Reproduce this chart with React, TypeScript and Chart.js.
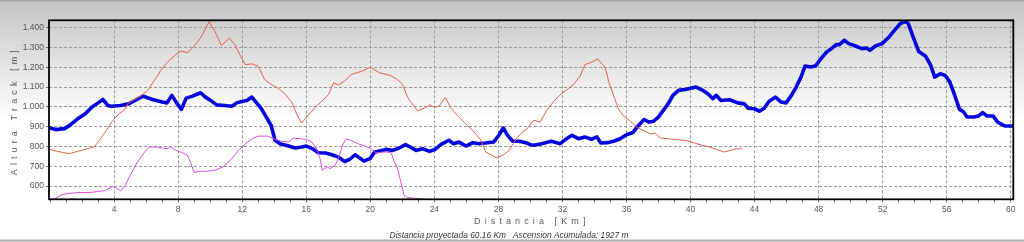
import React, { useEffect, useRef } from 'react';
import { Chart, registerables } from 'chart.js';

Chart.register(...registerables);

// Main track (blue)
const trackKm = [
  0, 0.35, 0.9, 1.2, 1.7, 2.2, 2.6, 3.0, 3.3, 3.6, 3.8, 4.4, 4.9, 5.3, 5.8, 6.4, 7.0, 7.3, 7.6, 7.9,
  8.2, 8.5, 8.9, 9.4, 9.7, 10.0, 10.4, 10.9, 11.35, 11.66, 11.97, 12.28, 12.6, 12.9, 13.2, 13.5, 13.8,
  14.05, 14.36, 14.9, 15.3, 15.7, 16.0, 16.4, 16.75, 17.2, 17.6, 18.0, 18.4, 18.7, 19.05, 19.35, 19.6,
  20.0, 20.25, 20.7, 20.98, 21.4, 21.8, 22.2, 22.5, 22.85, 23.27, 23.7, 24.0, 24.4, 24.9, 25.2, 25.55,
  25.97, 26.4, 26.8, 27.2, 27.7, 28.05, 28.3, 28.57, 28.9, 29.3, 29.7, 30.0, 30.2, 30.7, 31.3, 31.86,
  32.2, 32.6, 33.0, 33.4, 33.8, 34.15, 34.4, 34.8, 35.2, 35.6, 36.0, 36.4, 36.75, 37.1, 37.4, 37.7,
  38.0, 38.3, 38.6, 38.9, 39.25, 39.66, 40.08, 40.35, 40.77, 41.08, 41.4, 41.6, 41.9, 42.43, 42.95,
  43.37, 43.6, 44.0, 44.3, 44.6, 44.9, 45.3, 45.66, 45.97, 46.3, 46.6, 46.9, 47.15, 47.5, 47.8, 48.15,
  48.5, 48.8, 49.1, 49.3, 49.6, 49.88, 50.3, 50.7, 51.0, 51.2, 51.55, 51.96, 52.4, 52.8, 53.1, 53.4,
  53.6, 53.9, 54.25, 54.67, 55.0, 55.25, 55.6, 55.9, 56.2, 56.5, 56.8, 57.06, 57.27, 57.7, 58.0, 58.25,
  58.5, 58.9, 59.2, 59.66, 60.16,
];
const trackAlt = [
  893, 885, 890, 905, 938, 965, 998, 1020, 1037, 1007, 1003, 1007, 1015, 1032, 1054, 1037, 1024, 1020, 1058, 1020,
  987, 1044, 1054, 1071, 1049, 1034, 1010, 1007, 1003, 1020, 1027, 1032, 1049, 1020, 990, 948, 907,
  831, 814, 802, 792, 797, 802, 788, 768, 767, 758, 746, 724, 734, 758, 741, 726,
  740, 771, 780, 785, 780, 792, 809, 797, 780, 788, 775, 783, 809, 831, 814, 822,
  802, 819, 814, 817, 822, 859, 893, 856, 826, 826, 819, 809, 806, 814, 826, 814,
  836, 856, 839, 848, 836, 848, 817, 819, 826, 839, 859, 870, 906, 936, 923, 927,
  949, 982, 1015, 1058, 1083, 1088, 1095, 1100, 1083, 1066, 1041, 1058, 1032, 1036, 1020,
  1015, 993, 990, 978, 993, 1027, 1049, 1024, 1020, 1058, 1100, 1150, 1206, 1201, 1206, 1243,
  1277, 1294, 1314, 1314, 1336, 1319, 1307, 1294, 1297, 1285, 1307, 1319, 1353, 1392, 1420, 1432,
  1420, 1353, 1280, 1257, 1210, 1150, 1167, 1159, 1125, 1058, 987, 974, 949, 949, 954, 971,
  954, 954, 921, 903, 903,
];

// Second profile (red)
const redKm = [
  0, 0.46, 1.2, 1.7, 2.3, 2.75, 3.07, 3.5, 3.9, 4.3, 4.6, 4.9, 5.35, 5.7, 6.08, 6.5, 6.9, 7.3, 7.75,
  8.16, 8.58, 9.0, 9.4, 9.93, 10.3, 10.7, 11.2, 11.55, 11.9, 12.2, 12.6, 13.0, 13.4, 13.8, 14.26, 14.7,
  15.1, 15.4, 15.7, 16.1, 16.55, 16.96, 17.4, 17.7, 18.0, 18.4, 18.8, 19.46, 20.0, 20.56, 21.2, 21.7,
  22.0, 22.4, 22.95, 23.37, 23.7, 24.0, 24.3, 24.7, 25.0, 25.45, 25.97, 26.4, 26.9, 27.2, 27.6, 27.95,
  28.26, 28.68, 29.1, 29.5, 29.78, 30.2, 30.6, 31.0, 31.45, 31.86, 32.3, 32.7, 33.1, 33.4, 33.7, 33.94,
  34.2, 34.5, 34.67, 34.88, 35.2, 35.5, 35.8, 36.2, 36.65, 37.06, 37.5, 37.8, 38.1, 38.7, 39.35, 39.83,
  40.25, 40.77, 41.2, 41.7, 42.1, 42.5, 42.85, 43.2,
];
const redAlt = [
  785, 775, 763, 775, 788, 797, 830, 880, 930, 965, 982, 1020, 1040, 1057, 1082, 1132, 1182, 1223, 1257,
  1282, 1273, 1307, 1348, 1430, 1380, 1310, 1347, 1313, 1255, 1213, 1217, 1205, 1138, 1113, 1093, 1063,
  1022, 963, 918, 955, 997, 1027, 1063, 1122, 1110, 1130, 1163, 1180, 1200, 1172, 1160, 1138,
  1113, 1038, 980, 993, 1010, 997, 1005, 1047, 997, 955, 913, 880, 833, 772, 755, 742,
  755, 780, 838, 872, 888, 933, 922, 980, 1027, 1060, 1088, 1113, 1155, 1213, 1222, 1230,
  1243, 1213, 1200, 1130, 1055, 988, 955, 930, 897, 880, 863, 867, 843, 838, 833, 828,
  817, 805, 797, 783, 772, 780, 788, 788,
];

// Third profile (magenta)
const magentaKm = [
  0, 0.36, 0.67, 1.2, 1.7, 2.55, 2.96, 3.4, 3.9, 4.1, 4.4, 4.7, 5.0, 5.46, 5.9, 6.2, 6.6, 7.0, 7.33, 7.5,
  7.85, 8.27, 8.58, 8.8, 9.0, 9.4, 9.9, 10.3, 10.8, 11.35, 11.76, 12.2, 12.6, 13.0, 13.6, 14.05, 14.5,
  14.9, 15.2, 15.7, 16.0, 16.3, 16.65, 16.86, 17.0, 17.3, 17.5, 17.8, 18.0, 18.3, 18.5, 18.8, 19.25,
  19.66, 20.0, 20.35, 20.98, 21.3, 21.5, 21.7, 21.9, 22.1, 22.3, 22.85, 23.27,
];
const magentaAlt = [
  533, 538, 555, 563, 567, 568, 572, 577, 597, 592, 575, 605, 655, 722, 772, 797, 797, 792, 788, 800,
  780, 768, 755, 713, 668, 675, 675, 680, 697, 738, 780, 813, 838, 852, 852, 835, 825,
  822, 842, 838, 835, 825, 788, 738, 680, 697, 688, 705, 738, 813, 838, 830, 813,
  802, 790, 768, 772, 768, 722, 688, 622, 555, 542, 538, 533,
];

// Axis ticks
const yTickValues = [600, 700, 800, 900, 1000, 1100, 1200, 1300, 1400];
const xTickValues = Array.from({ length: 61 }, (_, i) => i); // one tick per km
const xLabelEvery = 4;

const xTitle = 'D i s t a n c i a   [ K m ]';
const yTitle = 'A l t u r a   T r a c k   [ m ]';
const footerText = 'Distancia proyectada 60.16 Km   Ascension Acumulada: 1927 m';

const zip = (xs: number[], ys: number[]) => xs.map((x, i) => ({ x, y: ys[i] }));

const fmtAlt = (v: number) =>
  v >= 1000 ? `${Math.floor(v / 1000)}.${String(v % 1000).padStart(3, '0')}` : String(v);

const FONT = 'Liberation Sans';

const framePlugin = {
  id: 'frame',
  beforeDraw(chart: any) {
    const { ctx, width, height } = chart;
    ctx.save();
    const g = ctx.createLinearGradient(0, 0, 0, 120);
    g.addColorStop(0, '#c4c4c4');
    g.addColorStop(1, '#ffffff');
    ctx.fillStyle = g;
    ctx.fillRect(0, 0, width, height);
    ctx.fillStyle = '#a9a9a9';
    ctx.fillRect(0, 0, width, 1.5);
    ctx.fillRect(0, height - 2.5, width, 2);
    ctx.restore();
  },
  afterDatasetsDraw(chart: any) {
    const { ctx, chartArea } = chart;
    ctx.save();
    ctx.strokeStyle = '#000000';
    ctx.lineWidth = 1.8;
    ctx.strokeRect(chartArea.left, chartArea.top, chartArea.right - chartArea.left, chartArea.bottom - chartArea.top);
    ctx.restore();
  },
  afterDraw(chart: any) {
    const { ctx, chartArea } = chart;
    ctx.save();
    // axis titles (letter-spaced)
    ctx.fillStyle = '#5a5a5a';
    ctx.textAlign = 'center';
    ctx.textBaseline = 'middle';
    ctx.font = `9px "${FONT}"`;
    try {
      (ctx as any).letterSpacing = '0.8px';
    } catch (e) {
      /* ignore */
    }
    ctx.fillText(xTitle, (chartArea.left + chartArea.right) / 2 - 1, 221.7);
    ctx.save();
    ctx.translate(15, (chartArea.top + chartArea.bottom) / 2 + 2.5);
    ctx.rotate(-Math.PI / 2);
    ctx.fillText(yTitle, 0, 0);
    ctx.restore();
    try {
      (ctx as any).letterSpacing = '0px';
    } catch (e) {
      /* ignore */
    }
    // footer
    ctx.font = `italic 8.4px "${FONT}"`;
    ctx.fillStyle = '#333333';
    ctx.fillText(footerText, 509, 236);
    ctx.restore();
  },
};

export default function App() {
  const canvasRef = useRef<HTMLCanvasElement | null>(null);

  useEffect(() => {
    if (!canvasRef.current) return;
    const chart = new Chart(canvasRef.current, {
      type: 'line',
      data: {
        datasets: [
          {
            label: 'Red',
            data: zip(redKm, redAlt),
            borderColor: '#e5604f',
            borderWidth: 1,
            pointRadius: 0,
            tension: 0,
            order: 1,
          },
          {
            label: 'Magenta',
            data: zip(magentaKm, magentaAlt),
            borderColor: '#e04ee0',
            borderWidth: 1,
            pointRadius: 0,
            tension: 0,
            order: 1,
          },
          {
            label: 'Altura Track',
            data: zip(trackKm, trackAlt),
            borderColor: '#0606dc',
            borderWidth: 3.6,
            pointRadius: 0,
            tension: 0,
            borderJoinStyle: 'round',
            borderCapStyle: 'round',
            order: 2,
          },
        ] as any,
      },
      options: {
        animation: false,
        responsive: false,
        layout: { padding: { left: 0, right: 10.7, top: 20.3, bottom: 0 } },
        plugins: {
          legend: { display: false },
          tooltip: { enabled: false },
          title: { display: false },
        },
        scales: {
          x: {
            type: 'linear',
            min: -0.07,
            max: 60.16,
            afterBuildTicks: (s: any) => {
              s.ticks = xTickValues.map((v) => ({ value: v }));
            },
            afterFit: (s: any) => {
              s.height = 42.7;
            },
            border: { display: false, dash: [3, 2] },
            grid: {
              color: (c: any) => {
                const v = c.tick ? c.tick.value : NaN;
                return v % xLabelEvery === 0 && v !== 0 ? '#9a9a9a' : 'rgba(0,0,0,0)';
              },
              tickColor: '#6a6a6a',
              tickLength: 3,
              tickBorderDash: [],
              lineWidth: 1,
            } as any,
            ticks: {
              autoSkip: false,
              maxRotation: 0,
              padding: 2.6,
              color: '#555555',
              font: { family: FONT, size: 8.5 },
              callback: (v: any) => (v % xLabelEvery === 0 && v !== 0 ? String(v) : ''),
            },
            title: { display: false },
          },
          y: {
            type: 'linear',
            min: 533,
            max: 1437,
            afterBuildTicks: (s: any) => {
              s.ticks = yTickValues.map((v) => ({ value: v }));
            },
            afterFit: (s: any) => {
              s.width = 49;
            },
            border: { display: false, dash: [3, 2] },
            grid: {
              color: '#9a9a9a',
              tickColor: '#6a6a6a',
              tickLength: 3,
              tickBorderDash: [],
              lineWidth: 1,
            } as any,
            ticks: {
              autoSkip: false,
              padding: 2,
              color: '#555555',
              font: { family: FONT, size: 8.5 },
              callback: (v: any) => fmtAlt(Number(v)),
            },
            title: { display: false },
          },
        },
      } as any,
      plugins: [framePlugin],
    });
    return () => chart.destroy();
  }, []);

  return (
    <canvas
      ref={canvasRef}
      width={1024}
      height={242}
      style={{ position: 'absolute', left: 0, top: 0, width: 1024, height: 242, display: 'block' }}
    />
  );
}
